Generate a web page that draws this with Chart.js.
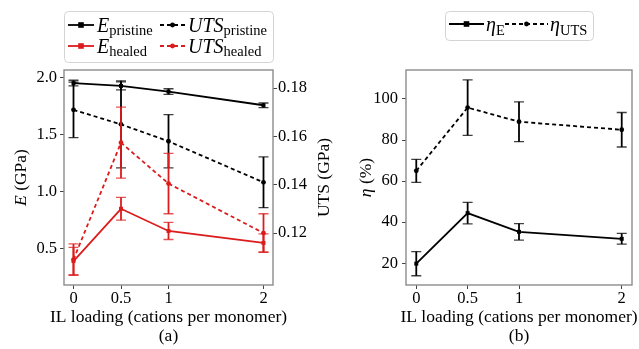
<!DOCTYPE html>
<html><head><meta charset="utf-8">
<script src="https://cdn.jsdelivr.net/npm/chart.js@4/dist/chart.umd.min.js"></script>
<style>
html,body{margin:0;padding:0;background:#fff;}
#wrap{position:relative;width:639px;height:349px;overflow:hidden;}
#c1{position:absolute;left:0;top:0;}
#c2{position:absolute;left:338px;top:0;}
</style></head><body>
<div id="wrap"><canvas id="c1" width="338" height="349"></canvas><canvas id="c2" width="301" height="349"></canvas></div>
<script>
// ---- data ----
const loading = [0, 0.5, 1, 2];
const xTicks = [0, 0.5, 1, 2];
const ePristine = [1.955, 1.93, 1.88, 1.76];
const ePristineErr = [0.025, 0.035, 0.025, 0.02];
const eHealed = [0.39, 0.85, 0.655, 0.55];
const eHealedErr = [0.12, 0.10, 0.075, 0.08];
const utsPristine = [0.171, 0.165, 0.158, 0.141];
const utsPristineErr = [0.0115, 0.018, 0.011, 0.0105];
const utsHealed = [0.109, 0.1574, 0.1405, 0.120];
const utsHealedErr = [0.0065, 0.0147, 0.0125, 0.008];
const etaE = [19.8, 44.4, 35.3, 31.9];
const etaEErr = [5.9, 5.2, 4.0, 2.6];
const etaUTS = [65.0, 95.8, 88.9, 85.0];
const etaUTSErr = [5.6, 13.5, 9.7, 8.4];
const eTicks = [0.5, 1.0, 1.5, 2.0];
const utsTicks = [0.12, 0.14, 0.16, 0.18];
const etaTicks = [20, 40, 60, 80, 100];

const FONT = "'Liberation Serif', 'Times New Roman', serif";
const RED = '#dc1c1c';
const BLACK = '#000000';

function pts(ys){ return loading.map((x,i)=>({x:x, y:ys[i]})); }

function richWidth(ctx, segs){
  let w = 0;
  segs.forEach(s=>{ ctx.font = s.font; w += ctx.measureText(s.text).width; });
  return w;
}
function drawRich(ctx, segs, x, y, align, rot){
  ctx.save();
  ctx.translate(x, y);
  if (rot) ctx.rotate(rot);
  ctx.textBaseline = 'alphabetic';
  ctx.textAlign = 'left';
  ctx.fillStyle = '#000';
  let cx = align === 'center' ? -richWidth(ctx, segs)/2 : 0;
  segs.forEach(s=>{
    ctx.font = s.font;
    ctx.fillText(s.text, cx, s.dy || 0);
    cx += ctx.measureText(s.text).width;
  });
  ctx.restore();
}
function marker(ctx, style, x, y, color){
  ctx.save();
  ctx.fillStyle = color;
  if (style === 'rect') { ctx.fillRect(x-2.8, y-2.8, 5.6, 5.6); }
  else { ctx.beginPath(); ctx.arc(x, y, 2.4, 0, Math.PI*2); ctx.fill(); }
  ctx.restore();
}

const errorBars = {
  id: 'errorBars',
  afterDatasetDraw(chart, args){
    const ds = chart.data.datasets[args.index];
    if (!ds.errors) return;
    const ys = chart.scales[ds.yAxisID];
    const ctx = chart.ctx;
    ctx.save();
    ctx.strokeStyle = ds.borderColor;
    args.meta.data.forEach((pt, i)=>{
      const v = ds.data[i].y, e = ds.errors[i];
      const x = pt.x;
      const y0 = ys.getPixelForValue(v - e), y1 = ys.getPixelForValue(v + e);
      ctx.globalAlpha = 1;
      ctx.lineWidth = 1.8;
      ctx.beginPath(); ctx.moveTo(x, y0); ctx.lineTo(x, y1); ctx.stroke();
      ctx.globalAlpha = 0.75;
      ctx.lineWidth = 1.3;
      ctx.beginPath();
      ctx.moveTo(x-5, y0); ctx.lineTo(x+5, y0);
      ctx.moveTo(x-5, y1); ctx.lineTo(x+5, y1);
      ctx.stroke();
    });
    ctx.restore();
  }
};

const decor = {
  id: 'decor',
  afterDraw(chart, args, opts){
    const ctx = chart.ctx;
    const ca = chart.chartArea;
    // frame
    ctx.save();
    ctx.strokeStyle = '#8c8c8c';
    ctx.lineWidth = 1.4;
    ctx.strokeRect(ca.left, ca.top, ca.right - ca.left, ca.bottom - ca.top);
    ctx.restore();
    // legend box
    const lg = opts.legend;
    ctx.save();
    ctx.strokeStyle = '#d4d4d4';
    ctx.fillStyle = 'rgba(255,255,255,0.9)';
    ctx.lineWidth = 1;
    ctx.beginPath();
    ctx.roundRect(lg.box[0]+0.5, lg.box[1]+0.5, lg.box[2], lg.box[3], 4);
    ctx.fill(); ctx.stroke();
    ctx.restore();
    lg.items.forEach(it=>{
      ctx.save();
      ctx.strokeStyle = it.color;
      ctx.lineWidth = 1.8;
      ctx.setLineDash(it.dash ? [4,3] : []);
      ctx.beginPath(); ctx.moveTo(it.x0, it.y); ctx.lineTo(it.x1, it.y); ctx.stroke();
      ctx.restore();
      marker(ctx, it.marker, (it.x0+it.x1)/2, it.y, it.color);
      drawRich(ctx, it.segs, it.tx, it.y + 6.5, 'left', 0);
    });
    // axis titles
    const cx = (ca.left + ca.right)/2, cy = (ca.top + ca.bottom)/2;
    opts.yTitles.forEach(t=>{
      drawRich(ctx, t.segs, t.x, cy, 'center', -Math.PI/2);
    });
    drawRich(ctx, [{text:'IL loading (cations per monomer)', font:'17.5px ' + FONT}], cx, 321.5, 'center', 0);
    drawRich(ctx, [{text:opts.caption, font:'17.5px ' + FONT}], cx, 340.5, 'center', 0);
  }
};

function xScale(){
  return {
    type:'linear', min:-0.1, max:2.1,
    afterBuildTicks: s => { s.ticks = xTicks.map(v=>({value:v})); },
    ticks:{ callback: v => String(v), font:{family:FONT, size:16.5}, color:'#000', padding:0, maxRotation:0, autoSkip:false },
    grid:{ drawOnChartArea:false, drawTicks:true, tickLength:4, color:'#444', lineWidth:1 },
    border:{ display:false },
    afterFit: s => { s.height = 64; }
  };
}

const sub = (t)=>({text:t, font:'14.5px ' + FONT, dy:3});
const ital = (t)=>({text:t, font:'italic 20px ' + FONT});
const lineDs = (label, ys, errs, axis, color, dashed, order) => ({
  label:label, data:pts(ys), errors:errs, yAxisID:axis,
  borderColor:color, backgroundColor:color, borderWidth:1.8,
  borderDash: dashed ? [4,3] : [],
  pointStyle: dashed ? 'circle' : 'rect', pointRadius: dashed ? 2.4 : 2.8,
  pointBorderWidth:0, tension:0, order:order
});

// ---- left chart ----
new Chart(document.getElementById('c1'), {
  type:'line',
  data:{ datasets:[
    lineDs('E pristine', ePristine, ePristineErr, 'y', BLACK, false, 4),
    lineDs('E healed', eHealed, eHealedErr, 'y', RED, false, 3),
    lineDs('UTS pristine', utsPristine, utsPristineErr, 'y1', BLACK, true, 2),
    lineDs('UTS healed', utsHealed, utsHealedErr, 'y1', RED, true, 1)
  ]},
  options:{
    responsive:false, animation:false, devicePixelRatio:1,
    layout:{ padding:{ top:70, left:0, right:0, bottom:0 } },
    scales:{
      x: xScale(),
      y: { type:'linear', position:'left', min:0.18, max:2.07,
        afterBuildTicks: s => { s.ticks = eTicks.map(v=>({value:v})); },
        ticks:{ callback: v => v.toFixed(1), font:{family:FONT, size:16.5}, color:'#000', padding:3 },
        grid:{ drawOnChartArea:false, drawTicks:true, tickLength:4, color:'#444' },
        border:{ display:false },
        afterFit: s => { s.width = 64; } },
      y1: { type:'linear', position:'right', min:0.0985, max:0.1875,
        afterBuildTicks: s => { s.ticks = utsTicks.map(v=>({value:v})); },
        ticks:{ callback: v => v.toFixed(2), font:{family:FONT, size:16.5}, color:'#000', padding:1 },
        grid:{ drawOnChartArea:false, drawTicks:true, tickLength:4, color:'#444' },
        border:{ display:false },
        afterFit: s => { s.width = 65; } }
    },
    plugins:{
      legend:{ display:false }, tooltip:{ enabled:false },
      decor:{
        caption:'(a)',
        legend:{ box:[64, 11, 209, 51], items:[
          { x0:68, x1:94, y:25, color:BLACK, dash:false, marker:'rect', tx:97, segs:[ital('E'), sub('pristine')] },
          { x0:68, x1:94, y:46, color:RED, dash:false, marker:'rect', tx:97, segs:[ital('E'), sub('healed')] },
          { x0:160, x1:185, y:25, color:BLACK, dash:true, marker:'circle', tx:188, segs:[ital('UTS'), sub('pristine')] },
          { x0:160, x1:185, y:46, color:RED, dash:true, marker:'circle', tx:188, segs:[ital('UTS'), sub('healed')] }
        ]},
        yTitles:[
          { x:26, segs:[{text:'E', font:'italic 17.5px ' + FONT}, {text:' (GPa)', font:'17.5px ' + FONT}] },
          { x:329, segs:[{text:'UTS (GPa)', font:'17.5px ' + FONT}] }
        ]
      }
    }
  },
  plugins:[errorBars, decor]
});

// ---- right chart ----
new Chart(document.getElementById('c2'), {
  type:'line',
  data:{ datasets:[
    lineDs('eta E', etaE, etaEErr, 'y', BLACK, false, 2),
    lineDs('eta UTS', etaUTS, etaUTSErr, 'y', BLACK, true, 1)
  ]},
  options:{
    responsive:false, animation:false, devicePixelRatio:1,
    layout:{ padding:{ top:70, left:0, right:7, bottom:0 } },
    scales:{
      x: xScale(),
      y: { type:'linear', position:'left', min:9.4, max:114.1,
        afterBuildTicks: s => { s.ticks = etaTicks.map(v=>({value:v})); },
        ticks:{ callback: v => String(v), font:{family:FONT, size:16.5}, color:'#000', padding:4 },
        grid:{ drawOnChartArea:false, drawTicks:true, tickLength:4, color:'#444' },
        border:{ display:false },
        afterFit: s => { s.width = 68; } }
    },
    plugins:{
      legend:{ display:false }, tooltip:{ enabled:false },
      decor:{
        caption:'(b)',
        legend:{ box:[107, 11, 148, 29], items:[
          { x0:111, x1:146, y:24, color:BLACK, dash:false, marker:'rect', tx:148, segs:[ital('η'), {text:'E', font:'14.5px ' + FONT, dy:4}] },
          { x0:167, x1:210, y:24, color:BLACK, dash:true, marker:'circle', tx:212, segs:[ital('η'), {text:'UTS', font:'14.5px ' + FONT, dy:4}] }
        ]},
        yTitles:[
          { x:33, segs:[{text:'η', font:'italic 17.5px ' + FONT}, {text:' (%)', font:'17.5px ' + FONT}] }
        ]
      }
    }
  },
  plugins:[errorBars, decor]
});
</script>
</body></html>
